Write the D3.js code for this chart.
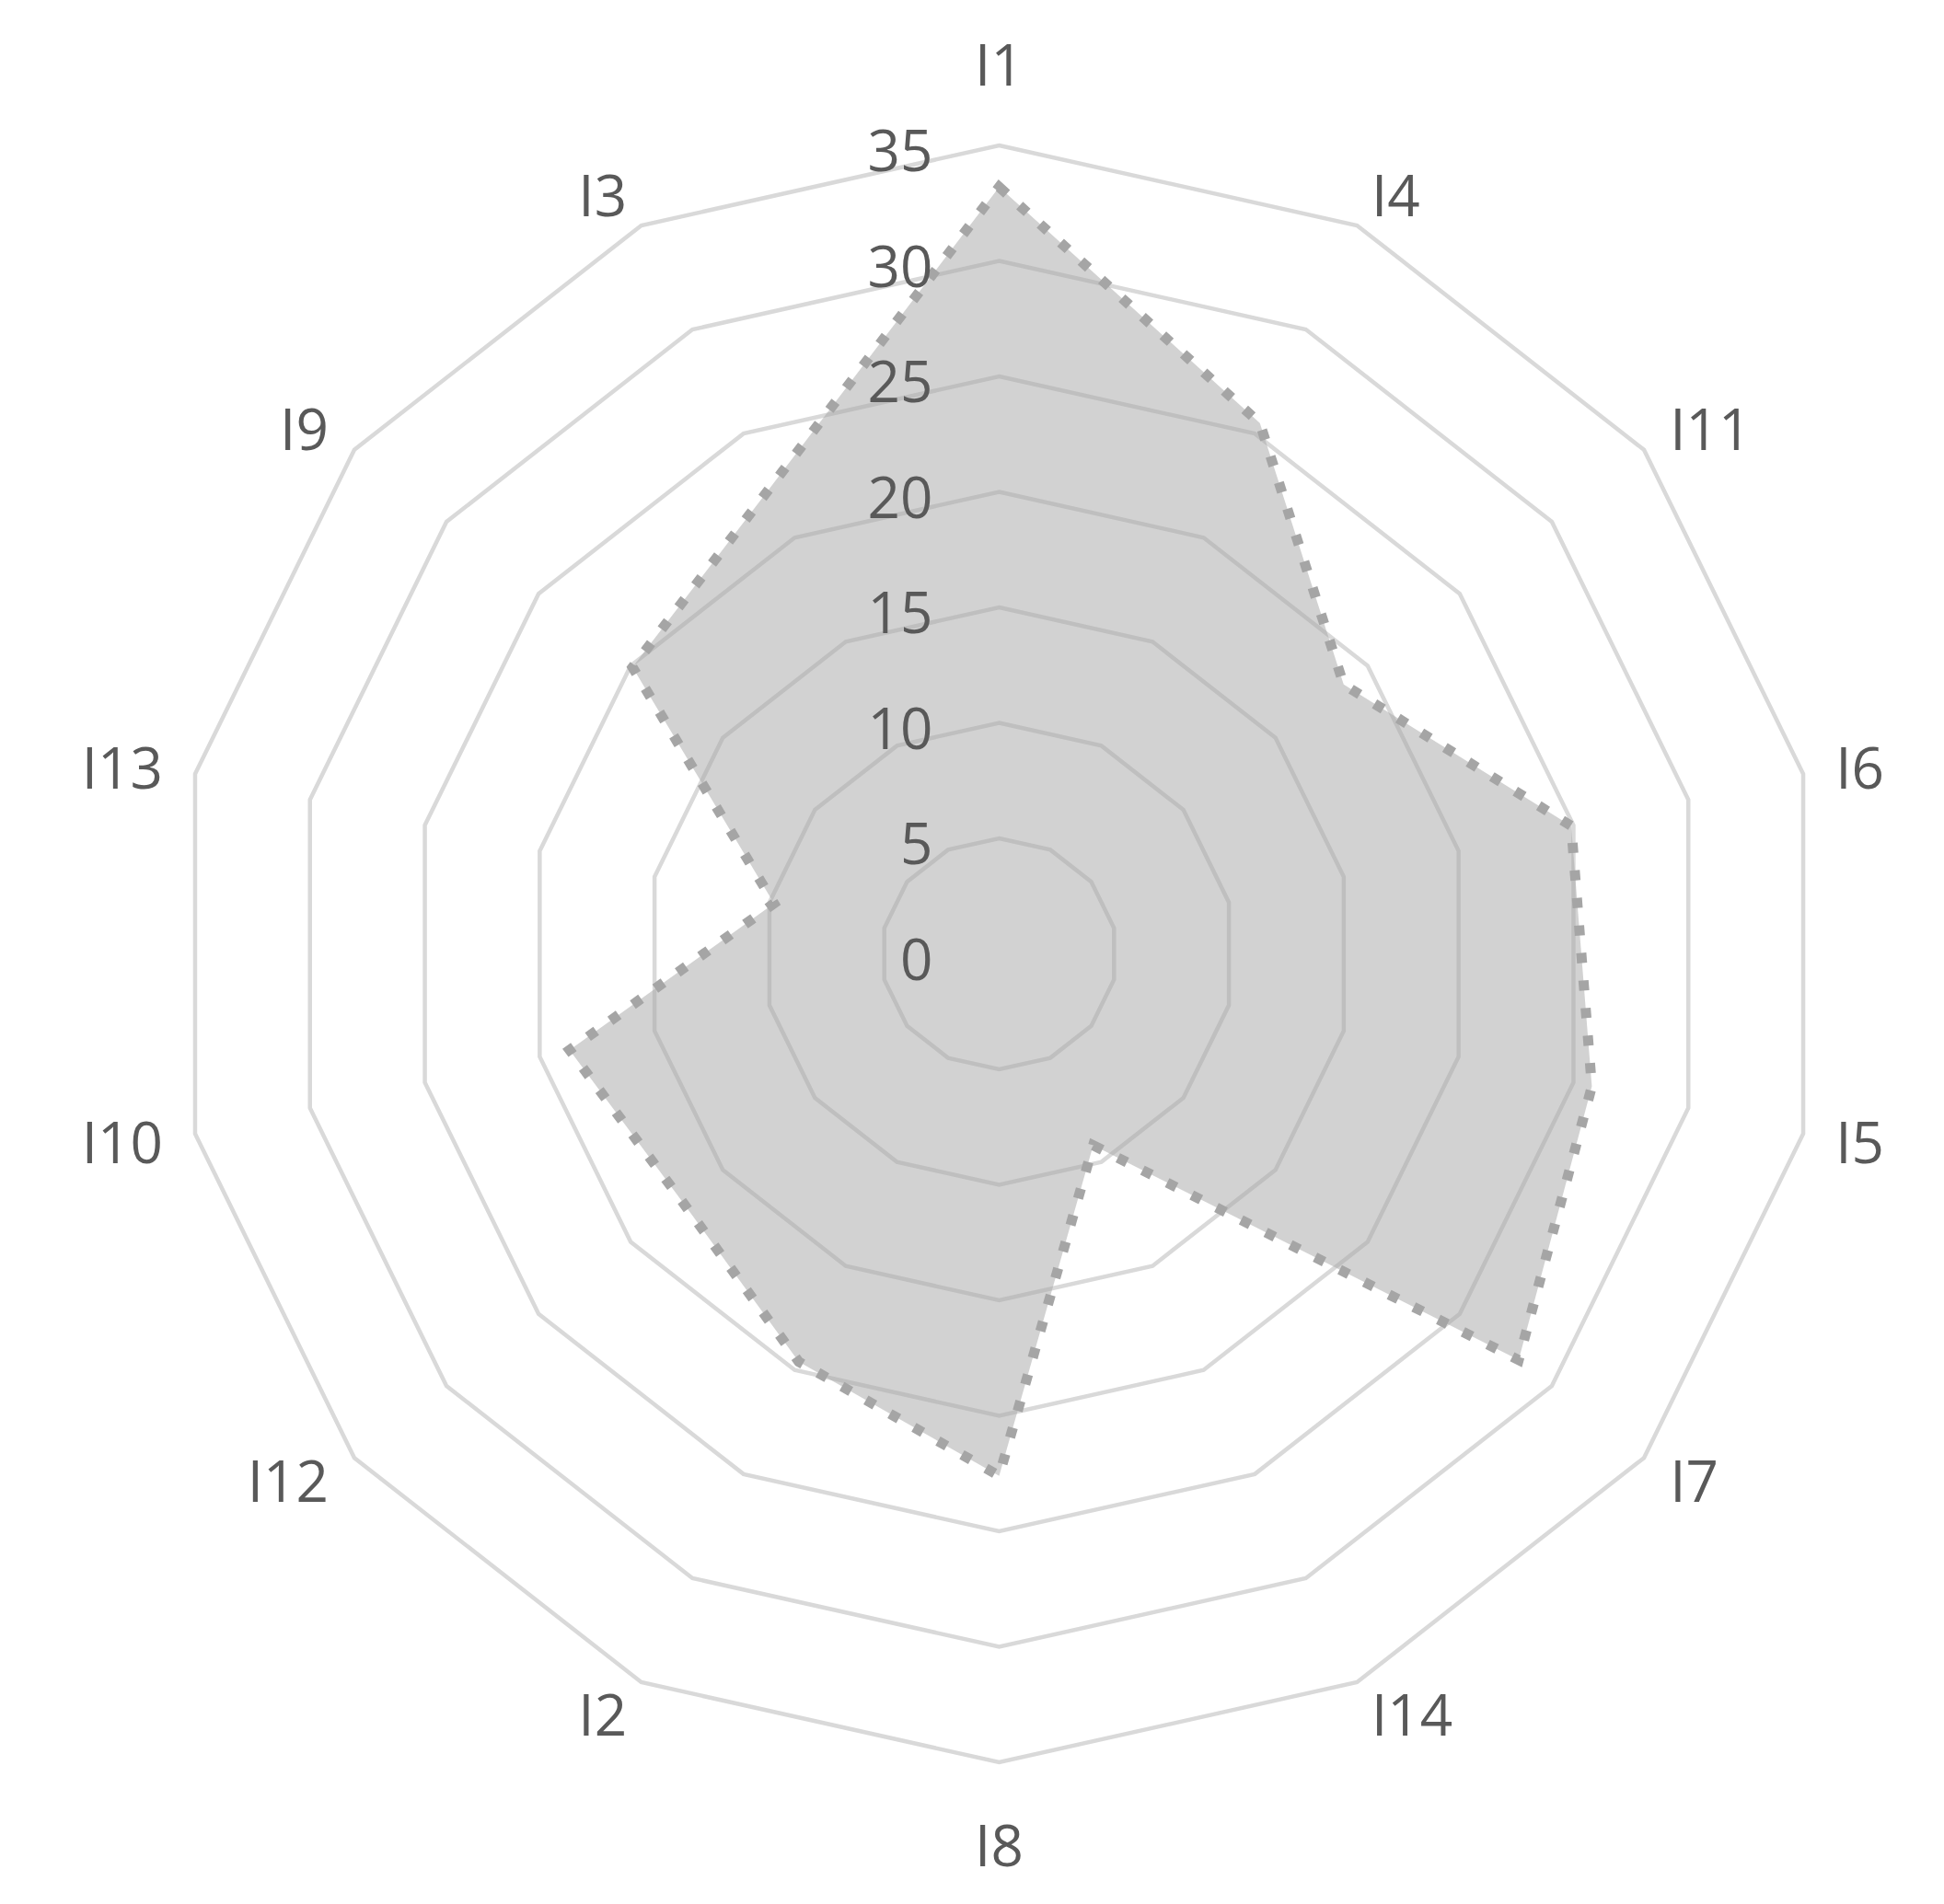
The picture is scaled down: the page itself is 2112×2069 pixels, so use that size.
<!DOCTYPE html>
<html>
<head>
<meta charset="utf-8">
<script src="https://cdn.jsdelivr.net/npm/d3@7"></script>
<style>
  html, body { margin: 0; padding: 0; background: #ffffff; }
  svg { display: block; }
</style>
</head>
<body>
<script>
const categories = ["I1","I4","I11","I6","I5","I7","I14","I8","I2","I12","I10","I13","I9","I3"];
const values = [33.2, 25.5, 18.7, 24.9, 25.8, 28.2, 9.2, 22.6, 19.6, 17.2, 18.7, 9.8, 19.9, 22.4];
const tickValues = [0, 5, 10, 15, 20, 25, 30, 35];
const tickLabels = ["0", "5", "10", "15", "20", "25", "30", "35"];

const W = 2112, H = 2069;
const cx = 1085.5, cy = 1036.5;
const Ry = 878.5, Rx = 896;
const font = "'Open Sans', 'Noto Sans', sans-serif";
const fontSize = 62;

const svg = d3.select("body").append("svg").attr("width", W).attr("height", H);

const ry = d3.scaleLinear().domain([0, 35]).range([0, Ry]);
const rx = d3.scaleLinear().domain([0, 35]).range([0, Rx]);
const angle = d3.scaleLinear().domain([0, categories.length]).range([0, 2 * Math.PI]);

const g = svg.append("g").attr("transform", `translate(${cx},${cy})`);

const polyLine = d3.line()
  .x((d, i) => Math.sin(angle(i)) * rx(d))
  .y((d, i) => -Math.cos(angle(i)) * ry(d))
  .curve(d3.curveLinearClosed);

// grid rings
g.append("g").selectAll("path")
  .data(tickValues.filter(v => v > 0))
  .join("path")
  .attr("d", v => polyLine(categories.map(() => v)))
  .attr("fill", "none")
  .attr("stroke", "#d9d9d9")
  .attr("stroke-width", 4.5);

// series
g.append("path")
  .datum(values)
  .attr("d", polyLine)
  .attr("fill", "#a5a5a5")
  .attr("fill-opacity", 0.5)
  .attr("stroke", "#a5a5a5")
  .attr("stroke-width", 11)
  .attr("stroke-dasharray", "11,19")
  .attr("stroke-linejoin", "miter");

// tick labels
g.append("g").selectAll("text")
  .data(tickValues)
  .join("text")
  .attr("x", -72)
  .attr("y", v => -ry(v) + 4)
  .attr("text-anchor", "end")
  .attr("dominant-baseline", "central")
  .attr("font-family", font)
  .attr("font-size", fontSize)
  .attr("fill", "#595959")
  .text((v, i) => tickLabels[i]);

// category labels
g.append("g").selectAll("text")
  .data(categories)
  .join("text")
  .each(function(d, i) {
    const a = angle(i);
    const s = Math.sin(a), c = Math.cos(a);
    const sel = d3.select(this);
    if (Math.abs(s) < 0.01) {
      sel.attr("x", 0).attr("y", -c * (Ry + 89)).attr("text-anchor", "middle");
    } else {
      sel.attr("x", s * (Rx + 36)).attr("y", -c * (Ry + 38))
        .attr("text-anchor", s > 0 ? "start" : "end");
    }
  })
  .attr("dominant-baseline", "central")
  .attr("font-family", font)
  .attr("font-size", fontSize)
  .attr("fill", "#595959")
  .text(d => d);
</script>
</body>
</html>
